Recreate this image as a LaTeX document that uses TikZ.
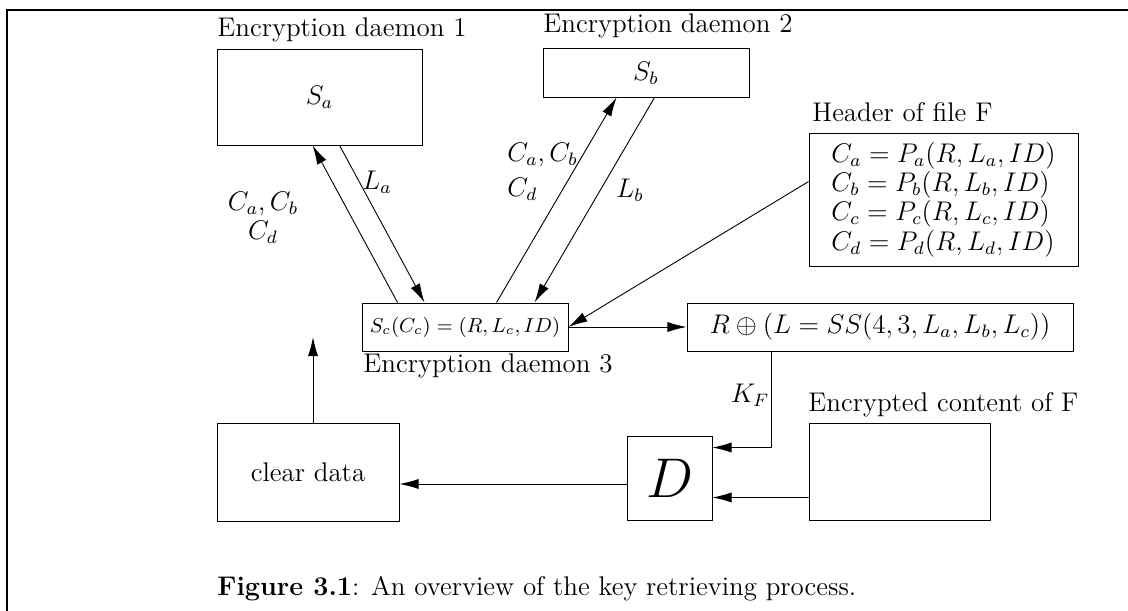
\documentclass[tikz,border=0pt,12pt]{standalone}
\usetikzlibrary{arrows.meta,calc,positioning}

\begin{document}
\begin{tikzpicture}[x=.445pt,y=-.445pt,
every node/.style={inner sep=0pt},
box/.style={draw,rectangle,thin},
lbl/.style={anchor=base west},
arr/.style={thin,-{Latex[length=8.5pt,width=4.5pt]}}]
\useasboundingbox (0,0) rectangle (1128,611);
% frame
\draw[line width=1.1pt] (7,611) -- (7,10) -- (1128,10);
% boxes
\node[box,minimum width=91.2pt,minimum height=42.7pt] (sa) at (319.5,97) {$S_a$};
\node[box,minimum width=91.7pt,minimum height=21.4pt] (sb) at (646,73) {$S_b$};
\node[box,minimum width=91.7pt,minimum height=21.4pt,font=\fontsize{9}{11}\selectfont] (sc) at (465,327) {$S_c(C_c)=(R,L_c,ID)$};
\node[box,minimum width=119.7pt,minimum height=59.2pt,align=left,font=\fontsize{12}{10.2}\selectfont] (hdr) at (943.5,199.5)
  {$C_a=P_a(R,L_a,ID)$\\$C_b=P_b(R,L_b,ID)$\\$C_c=P_c(R,L_c,ID)$\\$C_d=P_d(R,L_d,ID)$};
\node[box,minimum width=171.8pt,minimum height=21.4pt] (rb) at (880,327) {$R\oplus(L=SS(4,3,L_a,L_b,L_c))$};
\node[box,minimum width=37.8pt,minimum height=37.4pt,font=\Huge] (d) at (669.5,478) {$D$};
\node[box,minimum width=80.5pt,minimum height=43.2pt] (enc) at (899.5,471.5) {};
\node[box,minimum width=81pt,minimum height=43.6pt] (cl) at (308,472) {clear data};
% titles
\node[lbl] (t1) at (217,37) {Encryption daemon 1};
\node[lbl] (t2) at (543,33) {Encryption daemon 2};
\node[lbl] (t3) at (363,373) {Encryption daemon 3};
\node[lbl] (th) at (812,122) {Header of file F};
\node[lbl] (te) at (808,412) {Encrypted content of F};
\node[lbl] (cap) at (217,595) {\textbf{Figure 3.1}: An overview of the key retrieving process.};
% arrow labels
\node[align=center,font=\fontsize{12}{13}\selectfont] (ca) at (263,218) {$C_a,C_b$\\$C_d$};
\node[align=left,anchor=north west,font=\fontsize{12}{15.6}\selectfont] (cb) at (507,143) {$C_a,C_b$\\$C_d$};
\node (la) at (377,182) {$L_a$};
\node (lb) at (630,190) {$L_b$};
\node (kf) at (750,395) {$K_F$};
% connectors
\draw[arr] ($(sc.north west)+(36,0)$) -- ($(sa.south west)+(96,0)$);
\draw[arr] ($(sa.south west)+(123,0)$) -- ($(sc.north west)+(63,0)$);
\draw[arr] ($(sc.north west)+(135,0)$) -- ($(sb.south west)+(74,0)$);
\draw[arr] ($(sb.south west)+(112,0)$) -- ($(sc.north west)+(173,0)$);
\draw[arr] ($(hdr.north west)+(0,49)$) -- (sc.east);
\draw[arr] (sc.east) -- (rb.west);
\draw[arr] ($(rb.south west)+(85,0)$) |- ($(d.north east)+(0,12)$);
\draw[arr] ($(enc.south west)+(0,-23)$) -- ($(d.south east)+(0,-23)$);
\draw[arr] ($(d.west)+(0,6)$) -- ($(cl.east)+(0,12)$);
\coordinate (up) at (313,337);
\draw[arr] ($(cl.north)+(5,0)$) -- (up);
\end{tikzpicture}
\end{document}
